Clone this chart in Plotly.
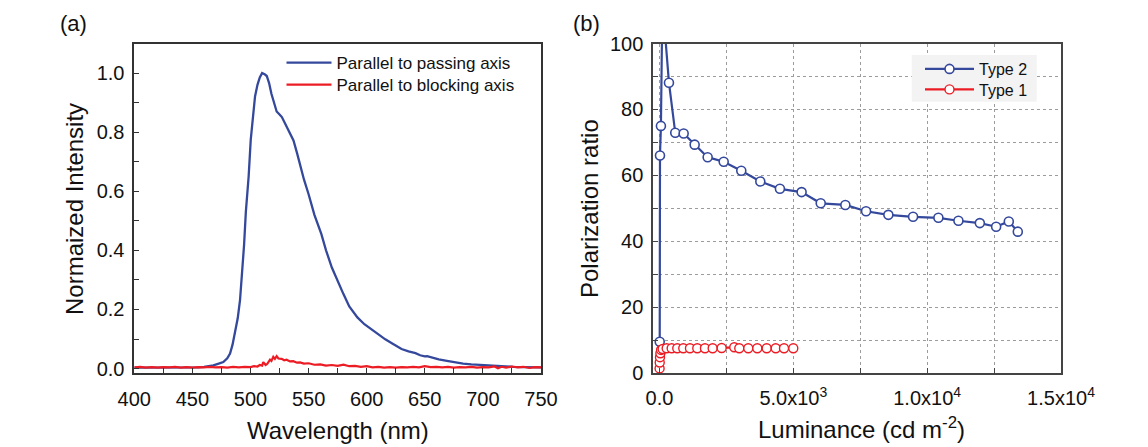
import plotly.graph_objects as go

# ---------------- (a) emission spectra ----------------
wl_pass = [400, 410, 420, 430, 440, 450, 455, 460, 465, 468, 472, 476.6, 480, 482.4, 484.5,
           486.7, 489, 491, 493, 494.5, 496, 497.5, 498.4, 500.2, 501.9, 503.9, 506, 508,
           510, 511.5, 512.5, 514, 516, 518, 520, 522.5, 525, 527, 529, 531, 534, 537, 540,
           543, 546, 550, 555, 561, 565, 570, 575, 580, 585, 592, 598, 604, 610, 616, 622,
           630, 636, 642, 646, 650, 652, 655, 662, 669, 676, 683, 690, 697, 705, 712, 720,
           726, 735, 742, 750]
int_pass = [0.003, 0.003, 0.002, 0.003, 0.003, 0.004, 0.004, 0.006, 0.008, 0.011, 0.016,
            0.022, 0.035, 0.051, 0.080, 0.119, 0.170, 0.232, 0.330, 0.420, 0.530, 0.600,
            0.650, 0.774, 0.853, 0.921, 0.960, 0.985, 1.000, 0.998, 0.995, 0.990, 0.966,
            0.930, 0.900, 0.870, 0.860, 0.851, 0.835, 0.819, 0.797, 0.772, 0.730, 0.680,
            0.640, 0.590, 0.520, 0.455, 0.400, 0.342, 0.295, 0.252, 0.210, 0.173, 0.150,
            0.133, 0.115, 0.099, 0.085, 0.066, 0.058, 0.052, 0.045, 0.041, 0.042, 0.038,
            0.031, 0.026, 0.021, 0.017, 0.014, 0.012, 0.010, 0.009, 0.007, 0.006, 0.005,
            0.005, 0.004]

wl_block = [400, 405, 410, 415, 420, 425, 430, 435, 440, 445, 450, 455, 460, 465, 470, 475,
            480, 485, 490, 495, 500, 503, 506, 508, 510, 511, 513, 514.5, 516.8, 518, 519.6,
            521, 522.5, 524, 526.8, 529, 531, 534, 536.8, 540, 542.6, 546, 550, 555, 560,
            565, 570, 575, 580, 585, 590, 595, 600, 605, 610, 615, 620, 625, 630, 635, 640,
            645, 650, 655, 660, 665, 670, 675, 680, 685, 690, 695, 700, 705, 710, 713, 716,
            720, 725, 730, 735, 740, 745, 750]
int_block = [0.004, 0.006, 0.003, 0.005, 0.003, 0.005, 0.004, 0.006, 0.003, 0.005, 0.003,
             0.005, 0.004, 0.006, 0.004, 0.005, 0.003, 0.006, 0.004, 0.006, 0.005, 0.008,
             0.007, 0.012, 0.010, 0.022, 0.012, 0.016, 0.030, 0.026, 0.040, 0.033, 0.042,
             0.034, 0.033, 0.028, 0.030, 0.024, 0.025, 0.020, 0.021, 0.017, 0.018, 0.013,
             0.014, 0.010, 0.012, 0.009, 0.013, 0.008, 0.009, 0.006, 0.008, 0.004, 0.006,
             0.003, 0.005, 0.003, 0.005, 0.004, 0.006, 0.004, 0.008, 0.005, 0.006, 0.004,
             0.006, 0.003, 0.005, 0.004, 0.006, 0.003, 0.005, 0.004, 0.007, 0.001, 0.006,
             0.003, 0.007, 0.004, 0.006, 0.002, 0.005, 0.004]

# ---------------- (b) polarization ratio vs luminance ----------------
lum_type2 = [10, 20, 55, 110, 355, 590, 904, 1315, 1800, 2400, 3057, 3768, 4500, 5310,
             6024, 6944, 7718, 8551, 9474, 10420, 11168, 11968, 12577, 13050, 13386]
ratio_type2 = [9.5, 66.0, 75.0, 113.0, 88.1, 72.9, 72.7, 69.3, 65.5, 64.1, 61.4, 58.1,
               55.9, 54.9, 51.5, 51.0, 49.1, 48.0, 47.4, 47.1, 46.2, 45.5, 44.4, 46.0, 42.9]

lum_type1 = [5, 10, 20, 35, 60, 119, 269, 456, 665, 889, 1140, 1413, 1700, 1988, 2324,
             2795, 2982, 3318, 3655, 4006, 4343, 4653, 5000]
ratio_type1 = [1.4, 3.2, 4.8, 6.0, 7.0, 7.3, 7.5, 7.5, 7.5, 7.5, 7.5, 7.5, 7.5, 7.5, 7.6,
               7.8, 7.5, 7.5, 7.5, 7.5, 7.5, 7.5, 7.5]

lum_tickvals = [0, 5000, 10000, 15000]
lum_ticktext = ["0.0", "5.0x10<sup>3</sup>", "1.0x10<sup>4</sup>", "1.5x10<sup>4</sup>"]

BLUE = "#34489c"
RED = "#ec1c24"
FONT = "Liberation Sans, Arial, sans-serif"
W, H = 1148, 447

fig = go.Figure()

fig.add_trace(go.Scatter(x=wl_pass, y=int_pass, mode="lines", name="Parallel to passing axis",
                         line=dict(color=BLUE, width=2.3), xaxis="x", yaxis="y", legend="legend"))
fig.add_trace(go.Scatter(x=wl_block, y=int_block, mode="lines", name="Parallel to blocking axis",
                         line=dict(color=RED, width=2.2), xaxis="x", yaxis="y", legend="legend4"))

fig.add_trace(go.Scatter(x=lum_type2, y=ratio_type2, mode="lines+markers", name="Type 2",
                         line=dict(color=BLUE, width=2.2),
                         marker=dict(symbol="circle", size=9, color="white",
                                     line=dict(color=BLUE, width=1.6)),
                         xaxis="x2", yaxis="y2", legend="legend2"))
fig.add_trace(go.Scatter(x=lum_type1, y=ratio_type1, mode="lines+markers", name="Type 1",
                         line=dict(color=RED, width=2.2),
                         marker=dict(symbol="circle", size=9, color="white",
                                     line=dict(color=RED, width=1.4)),
                         xaxis="x2", yaxis="y2", legend="legend3"))


def px_x(v):
    return v / W


def px_y(v):
    return 1 - v / H


dom_a = [px_x(134.3), px_x(541)]
dom_b = [px_x(653.3), px_x(1061)]
dom_y = [px_y(373), px_y(43.5)]

tickfont = dict(family=FONT, size=20, color="#111")
grid_dot = dict(gridcolor="#9c9c9c", gridwidth=1, griddash="dot")


def legend_at(x, y, size, itemwidth):
    return dict(x=px_x(x), y=px_y(y), xanchor="left", yanchor="middle",
                bgcolor="rgba(0,0,0,0)", borderwidth=0, itemwidth=itemwidth,
                font=dict(family=FONT, size=size, color="#111"))


fig.update_layout(
    width=W, height=H,
    showlegend=True,
    margin=dict(l=0, r=0, t=0, b=0, autoexpand=False),
    paper_bgcolor="white", plot_bgcolor="white",
    font=dict(family=FONT, color="#111"),
    xaxis=dict(domain=dom_a, anchor="y", range=[400, 750], dtick=50, tick0=400,
               ticks="inside", ticklen=5, tickwidth=1.2, tickcolor="#333",
               minor=dict(dtick=25, tick0=400, ticks="inside", ticklen=5, tickcolor="#333"),
               showline=True, linecolor="#333", linewidth=1.6, mirror=True,
               showgrid=False, zeroline=False, tickfont=tickfont, ticklabelstandoff=7,
               automargin=False),
    yaxis=dict(domain=dom_y, anchor="x", range=[-0.015, 1.10], dtick=0.2, tick0=0,
               tickformat=".1f", ticks="inside", ticklen=5, tickwidth=1.2, tickcolor="#333",
               minor=dict(dtick=0.1, tick0=0, ticks="inside", ticklen=5, tickcolor="#333"),
               showline=True, linecolor="#333", linewidth=1.6, mirror=True,
               showgrid=False, zeroline=False, tickfont=tickfont, ticklabelstandoff=4,
               automargin=False),
    yaxis3=dict(overlaying="y", anchor="x", side="right", range=[0, 14.95], tick0=0.97,
                dtick=1, ticks="inside", ticklen=5, tickwidth=1.2, tickcolor="#333",
                showticklabels=False, showgrid=False, zeroline=False, showline=False,
                automargin=False),
    xaxis2=dict(domain=dom_b, anchor="y2", range=[-230, 15000], tickvals=lum_tickvals,
                ticktext=lum_ticktext, ticks="inside", ticklen=5, tickcolor="#444",
                minor=dict(dtick=2500, tick0=0, ticks="inside", ticklen=5, tickcolor="#444",
                           showgrid=True, **grid_dot),
                showgrid=True, **grid_dot,
                showline=True, linecolor="#444", linewidth=2, mirror=True,
                zeroline=False, tickfont=tickfont, ticklabelstandoff=6, automargin=False),
    yaxis2=dict(domain=dom_y, anchor="x2", range=[0, 100], dtick=20, tick0=0,
                ticks="inside", ticklen=5, tickcolor="#444",
                minor=dict(dtick=10, tick0=0, ticks="inside", ticklen=5, tickcolor="#444",
                           showgrid=True, **grid_dot),
                showgrid=True, **grid_dot,
                showline=True, linecolor="#444", linewidth=2, mirror=True,
                zeroline=False, tickfont=tickfont, ticklabelstandoff=4, automargin=False),
    legend=legend_at(281.5, 63, 17, 45),
    legend4=legend_at(281.5, 85, 17, 45),
    legend2=legend_at(920, 69, 16, 49),
    legend3=legend_at(920, 89.5, 16, 49),
    shapes=[dict(type="rect", xref="paper", yref="paper",
                 x0=px_x(911.7), x1=px_x(1036.7), y0=px_y(101.7), y1=px_y(55),
                 fillcolor="#f3f3f3", line=dict(width=0), layer="above")],
)

title_font = dict(family=FONT, size=24, color="#111")
annotations = [
    dict(text="(a)", x=px_x(73), y=px_y(23), font=dict(family=FONT, size=22, color="#111")),
    dict(text="(b)", x=px_x(586), y=px_y(23), font=dict(family=FONT, size=22, color="#111")),
    dict(text="Wavelength (nm)", x=px_x(337.7), y=px_y(430), font=title_font),
    dict(text="Normaized Intensity", x=px_x(75), y=px_y(209), textangle=-90, font=title_font),
    dict(text="Luminance (cd m<sup>-2</sup>)", x=px_x(861), y=px_y(428), font=title_font),
    dict(text="Polarization ratio", x=px_x(590), y=px_y(209), textangle=-90, font=title_font),
]
for a in annotations:
    a.update(xref="paper", yref="paper", showarrow=False, xanchor="center", yanchor="middle")
fig.update_layout(annotations=annotations)

fig.write_html("out.html")
